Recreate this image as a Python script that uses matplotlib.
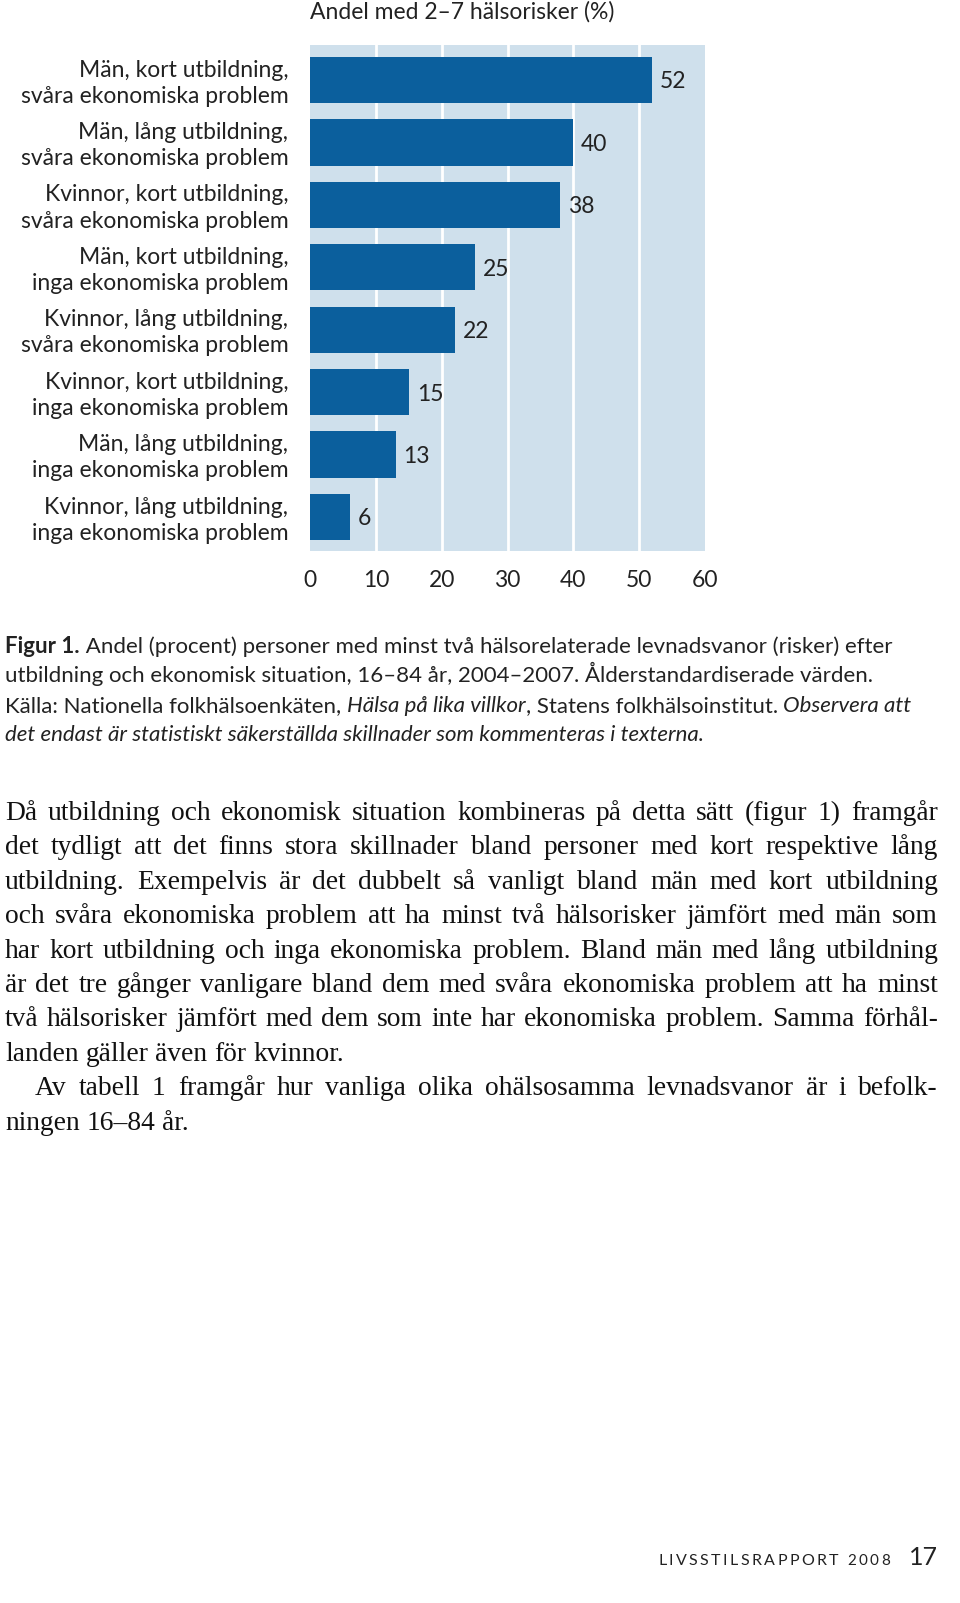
import matplotlib
matplotlib.use("Agg")
import matplotlib.pyplot as plt

# data (bottom to top as drawn)
categories = [
    "Kvinnor, lång utbildning,\ninga ekonomiska problem",
    "Män, lång utbildning,\ninga ekonomiska problem",
    "Kvinnor, kort utbildning,\ninga ekonomiska problem",
    "Kvinnor, lång utbildning,\nsvåra ekonomiska problem",
    "Män, kort utbildning,\ninga ekonomiska problem",
    "Kvinnor, kort utbildning,\nsvåra ekonomiska problem",
    "Män, lång utbildning,\nsvåra ekonomiska problem",
    "Män, kort utbildning,\nsvåra ekonomiska problem",
]
values = [6, 13, 15, 22, 25, 38, 40, 52]
x_ticks = [0, 10, 20, 30, 40, 50, 60]
chart_title = "Andel med 2–7 hälsorisker (%)"

caption_runs = [
    [("Figur 1.", "bold"), (" Andel (procent) personer med minst två hälsorelaterade levnadsvanor (risker) efter", "normal")],
    [("utbildning och ekonomisk situation, 16–84 år, 2004–2007. Ålderstandardiserade värden.", "normal")],
    [("Källa: Nationella folkhälsoenkäten, ", "normal"), ("Hälsa på lika villkor", "italic"),
     (", Statens folkhälsoinstitut. ", "normal"), ("Observera att", "italic")],
    [("det endast är statistiskt säkerställda skillnader som kommenteras i texterna.", "italic")],
]

body_lines = [
    ("Då utbildning och ekonomisk situation kombineras på detta sätt (figur 1) framgår", True, 0),
    ("det tydligt att det finns stora skillnader bland personer med kort respektive lång", True, 0),
    ("utbildning. Exempelvis är det dubbelt så vanligt bland män med kort utbildning", True, 0),
    ("och svåra ekonomiska problem att ha minst två hälsorisker jämfört med män som", True, 0),
    ("har kort utbildning och inga ekonomiska problem. Bland män med lång utbildning", True, 0),
    ("är det tre gånger vanligare bland dem med svåra ekonomiska problem att ha minst", True, 0),
    ("två hälsorisker jämfört med dem som inte har ekonomiska problem. Samma förhål-", True, 0),
    ("landen gäller även för kvinnor.", False, 0),
    ("Av tabell 1 framgår hur vanliga olika ohälsosamma levnadsvanor är i befolk-", True, 30),
    ("ningen 16–84 år.", False, 0),
]

footer_caps = "LIVSSTILSRAPPORT"
footer_year = "2008"
page_no = "17"

W, H = 960, 1603
BAR = "#0b5f9d"
BG = "#cfe0ec"
INK = "#222222"
SANS = "Lato"
SERIF = "Liberation Serif"
FS = 16.5

fig = plt.figure(figsize=(W / 100, H / 100), dpi=100)
fig.patch.set_facecolor("white")


def fx(x):
    return x / W


def fy(y):
    return 1 - y / H


# chart
ax = fig.add_axes([fx(310), fy(551), (705 - 310) / W, (551 - 45) / H])
ax.set_facecolor(BG)
ypos = list(range(len(values)))
ax.barh(ypos, values, height=0.74, color=BAR, zorder=3)
ax.set_xlim(0, 60)
ax.set_ylim(-0.544, 7.56)
for t in x_ticks[1:-1]:
    ax.axvline(t, color="white", lw=2.0, zorder=2)
for spine in ax.spines.values():
    spine.set_visible(False)
ax.set_xticks(x_ticks)
ax.set_xticklabels([str(t) for t in x_ticks], fontsize=FS, family=SANS, color=INK)
ax.tick_params(axis="x", length=0, pad=14)
ax.set_yticks([])
for y, v, c in zip(ypos, values, categories):
    ax.text(v + 1.2, y - 0.03, str(v), va="center", ha="left", fontsize=FS, family=SANS, color=INK)
    ax.text(-3.3, y - 0.05, c, va="center", ha="right", fontsize=FS, family=SANS,
            color=INK, linespacing=1.3)
fig.text(fx(310), fy(12), chart_title, ha="left", va="center", fontsize=FS, family=SANS, color=INK)

renderer = fig.canvas.get_renderer()


def width_of(t):
    return t.get_window_extent(renderer).width


def draw_runs(runs, x, y, size):
    for txt, style in runs:
        kw = dict(family=SANS, fontsize=size, color=INK, va="baseline", ha="left")
        if style == "bold":
            kw["fontweight"] = "bold"
        elif style == "italic":
            kw["fontstyle"] = "italic"
        t = fig.text(fx(x), fy(y), txt, **kw)
        x += width_of(t)


cap_y = [653, 682, 712, 741]
for runs, y in zip(caption_runs, cap_y):
    draw_runs(runs, 5, y, 16.0)

# body text, justified
BS = 19.8
left, right = 5, 938
body_y0, body_step = 820, 34.4
probe1 = fig.text(0, 0, "a a", family=SERIF, fontsize=BS)
probe2 = fig.text(0, 0, "aa", family=SERIF, fontsize=BS)
space = width_of(probe1) - width_of(probe2)
probe1.remove()
probe2.remove()
for i, (line, justify, indent) in enumerate(body_lines):
    y = body_y0 + i * body_step
    words = line.split(" ")
    texts = [fig.text(fx(left + indent), fy(y), w, family=SERIF, fontsize=BS, color="#111111",
                      va="baseline", ha="left") for w in words]
    widths = [width_of(t) for t in texts]
    if justify and len(words) > 1:
        gap = (right - left - indent - sum(widths)) / (len(words) - 1)
    else:
        gap = space
    x = left + indent
    for t, w in zip(texts, widths):
        t.set_position((fx(x), fy(y)))
        x += w + gap

# footer with letter spacing, stretched from 658 to 890
fy_foot = 1565
chars = [(c, 11.5) for c in footer_caps] + [(" ", 11.5)] + [(c, 11.0) for c in footer_year]
items = []
for ch, size in chars:
    t = fig.text(0, 0, ch, family=SANS, fontsize=size, color=INK, va="baseline", ha="left")
    items.append((t, width_of(t) if ch != " " else 4.0))
natural = sum(w for _, w in items)
track = (890 - 658 - natural) / (len(items) - 1)
x = 658
for t, w in items:
    t.set_position((fx(x), fy(fy_foot)))
    x += w + track
fig.text(fx(938), fy(fy_foot), page_no, family=SANS, fontsize=18, color=INK, va="baseline", ha="right")

fig.savefig("out.png", dpi=100)
